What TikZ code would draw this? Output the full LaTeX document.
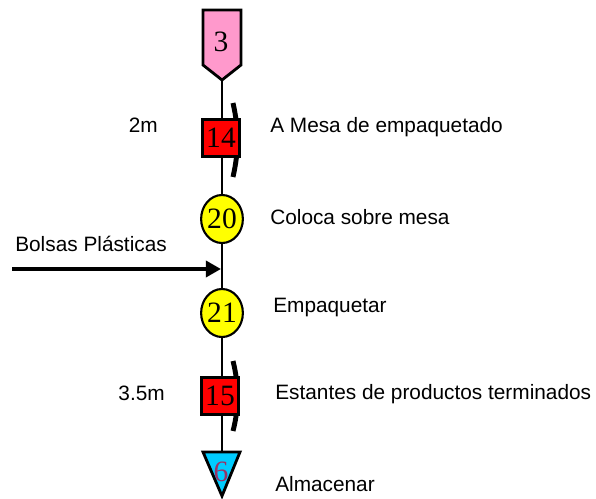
\documentclass[tikz,border=0pt]{standalone}
\usepackage{fontspec}
\setmainfont{Liberation Sans}
\newfontfamily\numfont{Liberation Serif}
\usetikzlibrary{
  arrows.meta,
  positioning,
  shapes.geometric
}
\definecolor{delaycol}{HTML}{FF99CC}
\definecolor{transcol}{HTML}{FF0000}
\definecolor{opercol}{HTML}{FFFF00}
\definecolor{storecol}{HTML}{00CCFF}
\definecolor{storenum}{HTML}{993366}

\begin{document}
\begin{tikzpicture}[
  x=0.025cm, y=-0.025cm,
  every node/.style={font=\fontsize{14.8}{16}\selectfont},
  steptext/.style={anchor=west, inner sep=0pt},
  numtext/.style={font=\numfont\fontsize{21}{22}\selectfont, inner sep=0pt},
  transbox/.style={draw, line width=2pt, fill=transcol, minimum size=0.925cm,
               inner sep=0pt, font=\numfont\fontsize{21}{22}\selectfont},
  operbox/.style={draw, line width=1.5pt, fill=opercol, ellipse, minimum width=0.875cm,
               minimum height=1.2cm, inner sep=0pt, font=\numfont\fontsize{21}{22}\selectfont},
  bracket/.style={line width=3.5pt},
  flow/.style={line width=1.4pt},
  >={Triangle[length=0.38cm, width=0.4cm]}
]
\useasboundingbox (0,0) rectangle (596,498);

% spine of the chart
\coordinate (tip3) at (222,80);
\coordinate (top6) at (222,452);
\coordinate (join) at (221,269);
\coordinate (bolsasin) at (12,269);
\draw[flow] (tip3) -- (top6);

% side marks of the transport steps
\draw[bracket] (233,103) .. controls (239,130) and (239,150) .. (233,177);
\draw[bracket] (233,361) .. controls (239,385) and (239,408) .. (233,431);

% first step
\draw[line width=2pt, fill=delaycol] (203,10) -- (241,10) -- (241,65) -- (222,80) -- (203,65) -- cycle;
\node[numtext] (n3) at (221,42) {3};

\node[transbox] (t14) at (221,138) {14};
\node[operbox] (o20) at (222,219) {20};
\node[operbox] (o21) at (222,313) {21};
\node[transbox] (t15) at (220,396) {15};

% last step
\draw[line width=2pt, fill=storecol] (203,452) -- (240,452) -- (222,496) -- cycle;
\node[numtext, text=storenum] (n6) at (221,472) {6};

\draw[->, line width=3pt] (bolsasin) -- (join);

% labels
\node[anchor=east, inner sep=0pt] (d14) at (158,125) {2m};
\node[anchor=east, inner sep=0pt] (d15) at (165,393) {3.5m};
\node[steptext] (l14) at (270,127) {A Mesa de empaquetado};
\node[steptext] (l20) at (270,217) {Coloca sobre mesa};
\node[anchor=west, inner sep=0pt] (lbol) at (15,244) {Bolsas Plásticas};
\node[steptext] (l21) at (273,307) {Empaquetar};
\node[steptext] (l15) at (275,394) {Estantes de productos terminados};
\node[steptext] (l6) at (275,484) {Almacenar};

\end{tikzpicture}
\end{document}
